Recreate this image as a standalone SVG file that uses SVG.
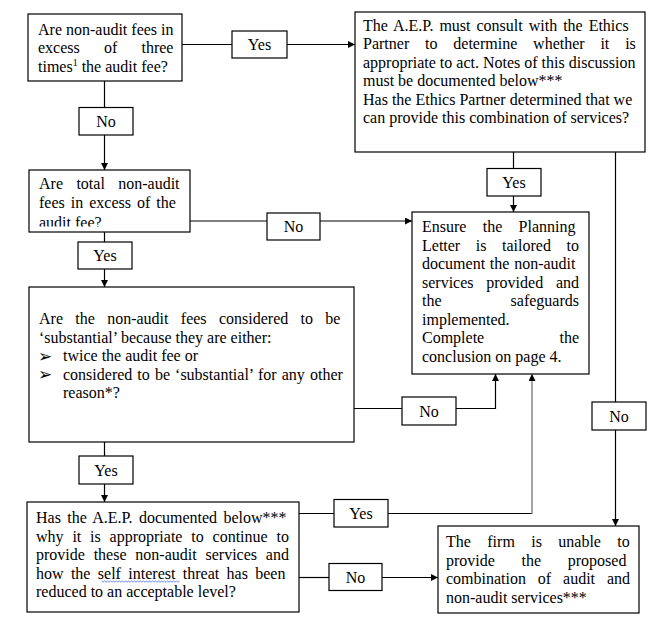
<svg xmlns="http://www.w3.org/2000/svg" width="665" height="623" viewBox="0 0 665 623" font-family="'Liberation Serif', 'Times New Roman', serif">
<style>
.box{fill:#fff;stroke:#000;stroke-width:1.2}
.lbl{fill:#fff;stroke:#000;stroke-width:1.2}
text{font-family:'Liberation Serif','Times New Roman',serif;font-size:16px;fill:#000}
.c{text-anchor:middle}
.e{text-anchor:end}
.ln{fill:none;stroke:#000;stroke-width:1.2}
.gray{fill:none;stroke:#7f7f7f;stroke-width:1.4}
text.bul{font-family:'DejaVu Sans',sans-serif;font-size:17px}
</style>
<defs>
<marker id="ah" markerUnits="userSpaceOnUse" markerWidth="7" markerHeight="7" refX="7" refY="3.5" orient="auto">
<path d="M0,0 L7,3.5 L0,7 z" fill="#000"/>
</marker>
<clipPath id="clip2"><rect x="29" y="170" width="161" height="56.5"/></clipPath>
</defs>
<rect width="665" height="623" fill="#fff"/>

<g id="connectors">
<line class="ln" x1="182" y1="44.5" x2="232" y2="44.5"/>
<line class="ln" x1="287" y1="44.5" x2="355" y2="44.5" marker-end="url(#ah)"/>
<line class="ln" x1="104.5" y1="81" x2="104.5" y2="107"/>
<line class="ln" x1="104.5" y1="135" x2="104.5" y2="170" marker-end="url(#ah)"/>
<line class="ln" x1="190" y1="221" x2="267" y2="221"/>
<line class="ln" x1="320" y1="221" x2="412" y2="221" marker-end="url(#ah)"/>
<line class="ln" x1="104.5" y1="232" x2="104.5" y2="242"/>
<line class="ln" x1="104.5" y1="269" x2="104.5" y2="287" marker-end="url(#ah)"/>
<line class="ln" x1="354" y1="408.5" x2="402" y2="408.5"/>
<polyline class="ln" points="456,408.5 495.5,408.5 495.5,374" marker-end="url(#ah)"/>
<line class="ln" x1="104.5" y1="442" x2="104.5" y2="456"/>
<line class="ln" x1="104.5" y1="484" x2="104.5" y2="502" marker-end="url(#ah)"/>
<line class="ln" x1="299" y1="513.5" x2="334" y2="513.5"/>
<line class="ln" x1="388" y1="513.5" x2="532" y2="513.5"/>
<line class="gray" x1="532" y1="514" x2="532" y2="374" marker-end="url(#ah)"/>
<line class="ln" x1="299" y1="577.5" x2="329" y2="577.5"/>
<line class="ln" x1="382" y1="577.5" x2="438" y2="577.5" marker-end="url(#ah)"/>
<line class="ln" x1="513.5" y1="152" x2="513.5" y2="168"/>
<line class="ln" x1="513.5" y1="196" x2="513.5" y2="212" marker-end="url(#ah)"/>
<line class="ln" x1="615.5" y1="152" x2="615.5" y2="402"/>
<line class="ln" x1="615.5" y1="430" x2="615.5" y2="526" marker-end="url(#ah)"/>
</g>

<g id="labels">
<g id="lbl-yes1"><rect class="lbl" x="232" y="31" width="55" height="27"/><text class="c" x="259.5" y="50">Yes</text></g>
<g id="lbl-no1"><rect class="lbl" x="79" y="107.5" width="54" height="27.5"/><text class="c" x="106" y="127">No</text></g>
<g id="lbl-no2"><rect class="lbl" x="267" y="213" width="53" height="27"/><text class="c" x="293.5" y="232">No</text></g>
<g id="lbl-yes2"><rect class="lbl" x="78" y="242" width="54" height="27"/><text class="c" x="105" y="261">Yes</text></g>
<g id="lbl-no3"><rect class="lbl" x="402" y="397" width="54" height="28"/><text class="c" x="429" y="417">No</text></g>
<g id="lbl-yes3"><rect class="lbl" x="79" y="456" width="54" height="28"/><text class="c" x="106" y="476">Yes</text></g>
<g id="lbl-yes4"><rect class="lbl" x="334" y="499.5" width="54" height="27.5"/><text class="c" x="361" y="519">Yes</text></g>
<g id="lbl-no5"><rect class="lbl" x="329" y="563.5" width="53" height="27"/><text class="c" x="355.5" y="583">No</text></g>
<g id="lbl-yes5"><rect class="lbl" x="487" y="168.5" width="54" height="27.5"/><text class="c" x="514" y="188">Yes</text></g>
<g id="lbl-no6"><rect class="lbl" x="592" y="402" width="54" height="28"/><text class="c" x="619" y="422">No</text></g>
</g>

<g id="n-three-times">
<rect class="box" x="28" y="14" width="154" height="67"/>
<text x="38" y="34.5">Are non-audit fees in</text>
<text x="38" y="53" word-spacing="20.2">excess of three</text>
<text x="38" y="71.5">times<tspan font-size="10" dy="-6">1</tspan><tspan dy="6"> the audit fee?</tspan></text>
</g>

<g id="n-total-fees">
<rect class="box" x="29" y="170" width="161" height="62"/>
<g clip-path="url(#clip2)">
<text x="39" y="189" word-spacing="9.4">Are total non-audit</text>
<text x="39" y="207.5" word-spacing="2">fees in excess of the</text>
<text x="39" y="228">audit fee?</text>
</g>
</g>

<g id="n-substantial">
<rect class="box" x="29" y="287" width="325" height="155"/>
<text x="39" y="324" word-spacing="8.33">Are the non-audit fees considered to be</text>
<text x="39" y="342.5">‘substantial’ because they are either:</text>
<text class="bul" x="38" y="361.5">➢</text>
<text x="63" y="361">twice the audit fee or</text>
<text class="bul" x="38" y="380">➢</text>
<text x="63" y="379.5" word-spacing="1.07">considered to be ‘substantial’ for any other</text>
<text x="63" y="398">reason*?</text>
</g>

<g id="n-aep-documented">
<rect class="box" x="27" y="502" width="272" height="110"/>
<text x="36" y="523" word-spacing="2.3">Has the A.E.P. documented below***</text>
<text x="36" y="541.5" word-spacing="4.83">why it is appropriate to continue to</text>
<text x="36" y="560" word-spacing="4.8">provide these non-audit services and</text>
<text x="36" y="578.5" word-spacing="3.37">how the self interest threat has been</text>
<polyline points="101.5,581 103,582.2 104.5,581 106,582.2 107.5,581 109,582.2 110.5,581 112,582.2 113.5,581 115,582.2 116.5,581 118,582.2 119.5,581 121,582.2 122.5,581 124,582.2 125.5,581 127,582.2 128.5,581 130,582.2 131.5,581 133,582.2 134.5,581 136,582.2 137.5,581 139,582.2 140.5,581 142,582.2 143.5,581 145,582.2 146.5,581 148,582.2 149.5,581 151,582.2 152.5,581 154,582.2 155.5,581 157,582.2 158.5,581 160,582.2 161.5,581 163,582.2 164.5,581 166,582.2 167.5,581 169,582.2 170.5,581 172,582.2 173.5,581 175,582.2 176.5,581 178,582.2 179.5,581" fill="none" stroke="#4a6fe0" stroke-width="0.8"/>
<text x="36" y="597">reduced to an acceptable level?</text>
</g>

<g id="n-ethics-partner">
<rect class="box" x="355" y="12" width="290" height="140"/>
<text x="363" y="30.5" word-spacing="1.98">The A.E.P. must consult with the Ethics</text>
<text x="363" y="49" word-spacing="11.82">Partner to determine whether it is</text>
<text x="363" y="67.5">appropriate to act. Notes of this discussion</text>
<text x="363" y="86">must be documented below***</text>
<text x="363" y="104.5">Has the Ethics Partner determined that we</text>
<text x="363" y="123">can provide this combination of services?</text>
</g>

<g id="n-planning-letter">
<rect class="box" x="412" y="212" width="177" height="162"/>
<text x="422" y="232" word-spacing="12.3">Ensure the Planning</text>
<text x="422" y="250.5" word-spacing="11.6">Letter is tailored to</text>
<text x="422" y="269" word-spacing="0.75">document the non-audit</text>
<text x="422" y="287.5" word-spacing="8.75">services provided and</text>
<text x="422" y="306">the</text><text class="e" x="579" y="306">safeguards</text>
<text x="422" y="324.5">implemented.</text>
<text x="422" y="343">Complete</text><text class="e" x="579" y="343">the</text>
<text x="422" y="361.5">conclusion on page 4.</text>
</g>

<g id="n-unable">
<rect class="box" x="438" y="526" width="201" height="87"/>
<text x="446" y="547" word-spacing="12.4">The firm is unable to</text>
<text x="446" y="565.5" word-spacing="22.65">provide the proposed</text>
<text x="446" y="584" word-spacing="7.87">combination of audit and</text>
<text x="446" y="602.5">non-audit services***</text>
</g>
</svg>
